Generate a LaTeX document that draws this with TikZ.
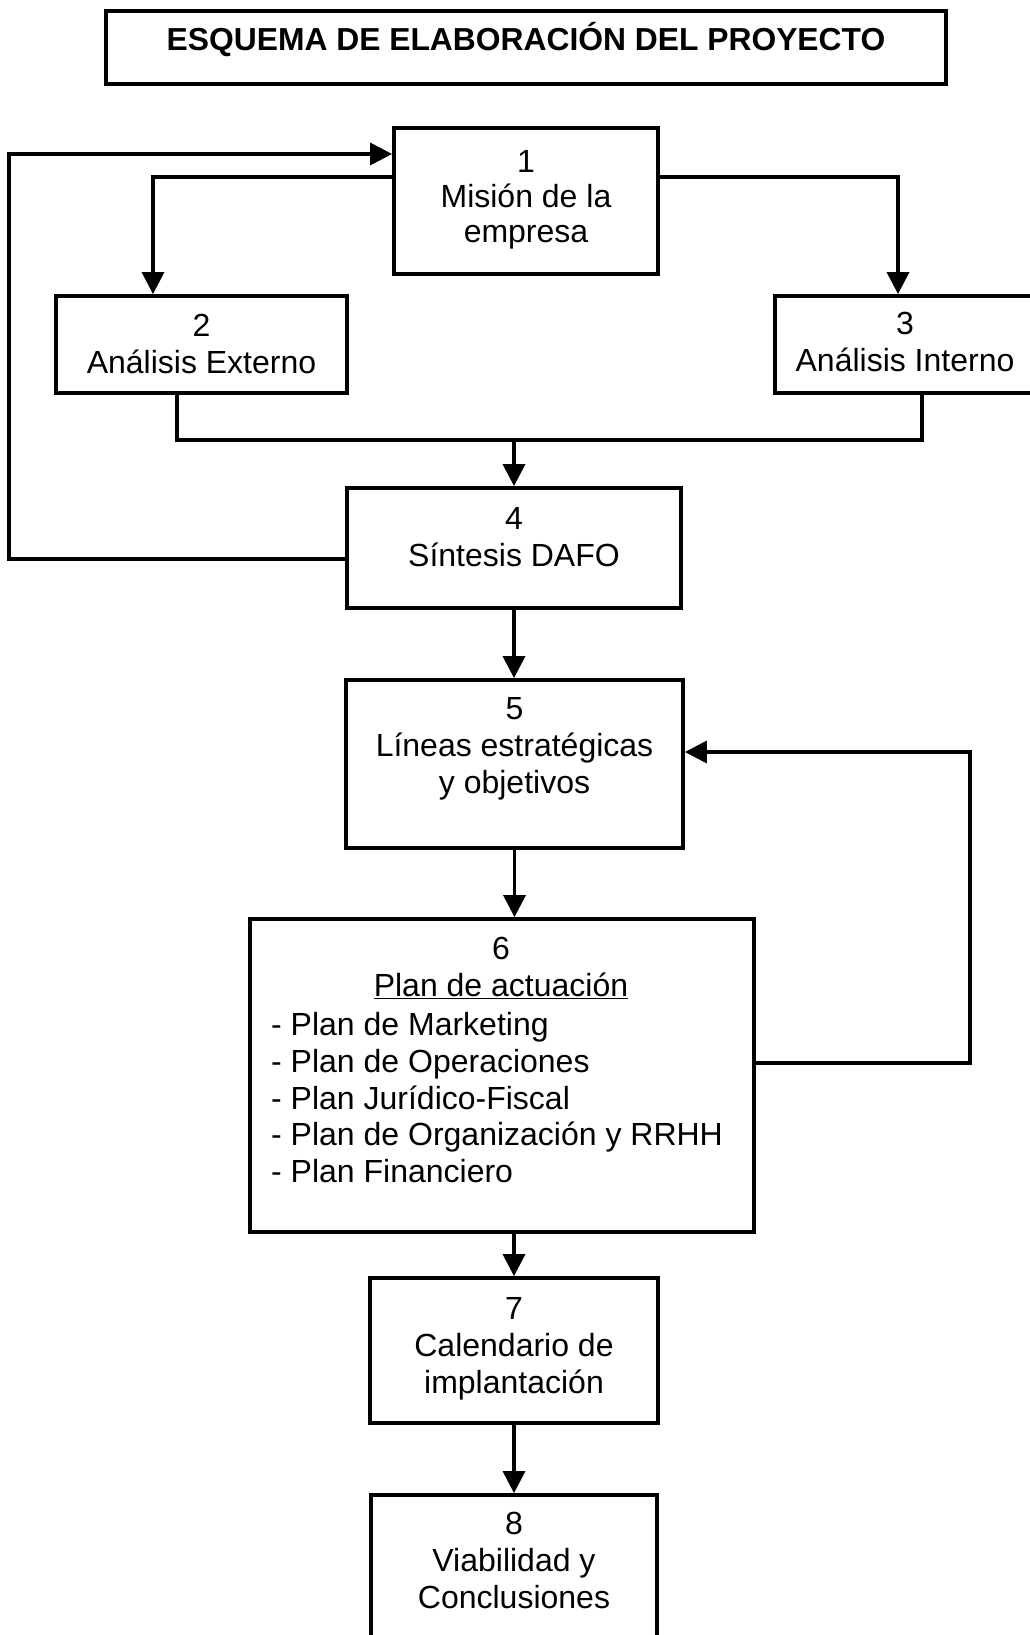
\documentclass[tikz,border=0pt]{standalone}
\usepackage{fontspec}
\setmainfont{Liberation Sans}
\usetikzlibrary{arrows.meta}
\begin{document}
\begin{tikzpicture}[x=1pt,y=-1pt,
  box/.style 2 args={draw, line width=3.8pt, inner sep=0pt,
    minimum width=#1, minimum height=#2},
  txt/.style={align=center, inner sep=0pt, anchor=north,
    font=\fontsize{32}{37}\selectfont},
  listtxt/.style={align=left, inner sep=0pt, anchor=north west,
    font=\fontsize{32}{36.8}\selectfont},
  link/.style={line width=3.4pt},
  flow/.style={link, -{Triangle[length=22pt,width=22pt]}}
]
\path[use as bounding box, clip] (0,0) rectangle (1030,1635);

% title
\node[box={840}{73}] (title) at (526,47.5) {};
\node[inner sep=0pt, font=\fontsize{31.8}{37}\selectfont\bfseries] (titletext)
  at ([yshift=7.5pt]title.center) {ESQUEMA DE ELABORACIÓN DEL PROYECTO};

% boxes
\node[box={264}{146}] (b1) at (526,201) {};
\node[txt, font=\fontsize{32}{35}\selectfont] (b1t) at ([yshift=-24pt]b1.north) {1\\Misión de la\\empresa};

\node[box={291}{97}] (b2) at (201.5,344.5) {};
\node[txt] (b2t) at ([yshift=-20pt]b2.north) {2\\Análisis Externo};

\node[box={260}{97}] (b3) at (905,344.5) {};
\node[txt] (b3t) at ([yshift=-18pt]b3.north) {3\\Análisis Interno};

\node[box={334}{120}] (b4) at (514,548) {};
\node[txt] (b4t) at ([yshift=-21pt]b4.north) {4\\Síntesis DAFO};

\node[box={337}{168}] (b5) at (514.5,764) {};
\node[txt] (b5t) at ([yshift=-19pt]b5.north) {5\\Líneas estratégicas\\y objetivos};

\node[box={504}{313}] (b6) at (502,1075.5) {};
\node[txt] (b6t) at ([xshift=-1pt,yshift=-20pt]b6.north) {6\\\underline{Plan de actuación}};
\node[listtxt] (b6l) at (271,1012) {- Plan de Marketing\\- Plan de Operaciones\\- Plan Jurídico-Fiscal\\- Plan de Organización y RRHH\\- Plan Financiero};

\node[box={288}{145}] (b7) at (514,1350.5) {};
\node[txt] (b7t) at ([yshift=-21pt]b7.north) {7\\Calendario de\\implantación};

\node[box={286}{150}] (b8) at (514,1570) {};
\node[txt] (b8t) at ([yshift=-19pt]b8.north) {8\\Viabilidad y\\Conclusiones};

% junction points of the routed connectors
\coordinate (join) at (514,440);
\coordinate (leftrail) at (9,360);
\coordinate (rightrail) at (970,900);

% mission to both analyses
\draw[flow] ([yshift=24pt]b1.west) -| ([xshift=-48.5pt]b2.north);
\draw[flow] ([yshift=24pt]b1.east) -| ([xshift=-7pt]b3.north);

% analyses merge into the SWOT synthesis
\draw[link] ([xshift=-24.5pt]b2.south) |- (join) -| ([xshift=17pt]b3.south);
\draw[flow] (join) -- (join |- b4.north);

% feedback from the synthesis to the mission
\draw[flow] ([yshift=-11pt]b4.west) -| (leftrail) |- ([yshift=47pt]b1.west);

% main sequence
\draw[flow] (b4.south) -- (b4.south |- b5.north);
\draw[flow] (b5.south) -- (b5.south |- b6.north);
\draw[flow] (b6.south -| b7.north) -- (b7.north);
\draw[flow] (b7.south) -- (b8.north);

% feedback from the action plan to the strategic lines
\draw[flow] ([yshift=12.5pt]b6.east) -| (rightrail) |- ([yshift=12pt]b5.east);
\end{tikzpicture}
\end{document}
